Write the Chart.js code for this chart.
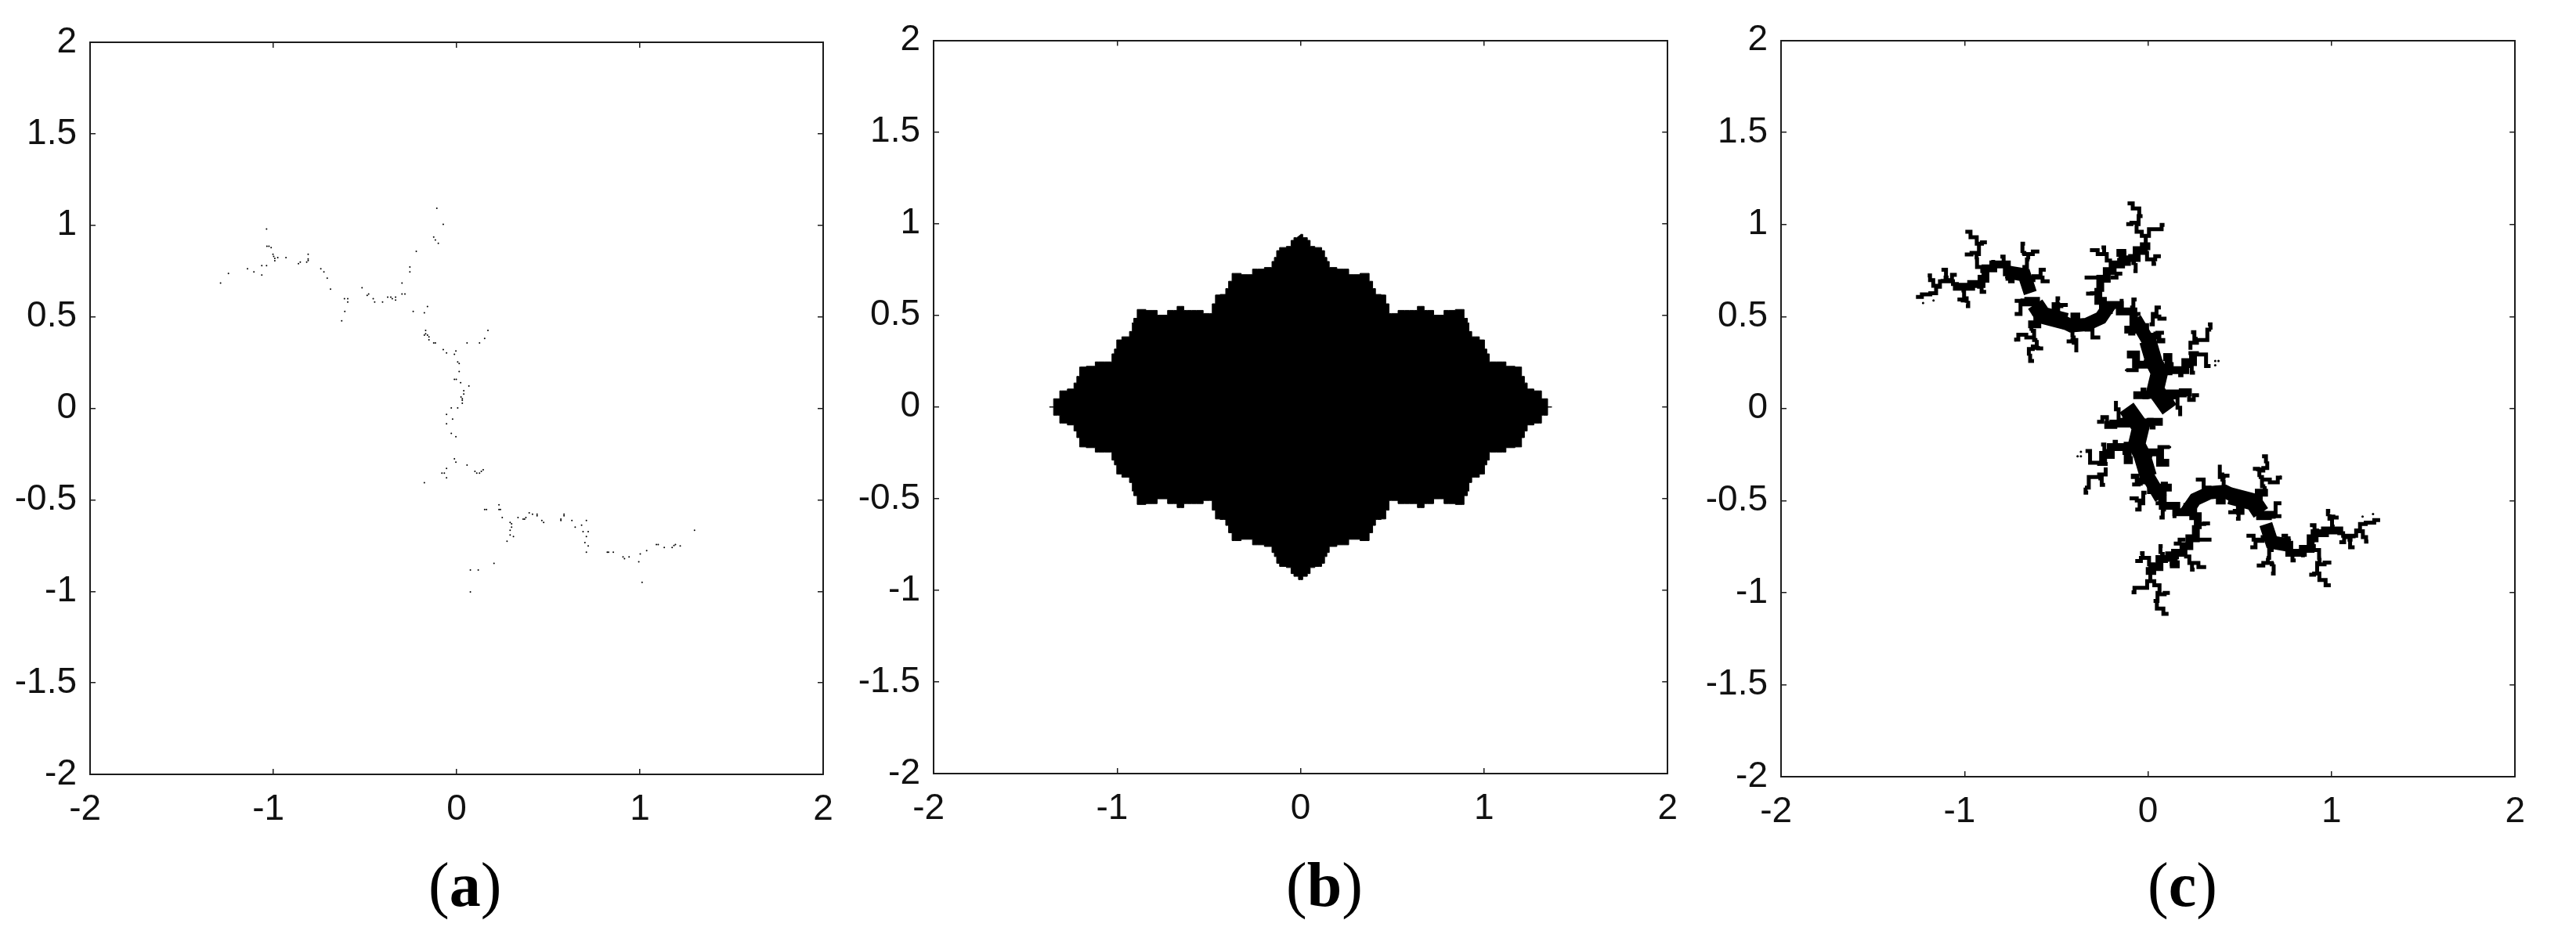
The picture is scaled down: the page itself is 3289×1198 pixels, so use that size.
<!DOCTYPE html>
<html>
<head>
<meta charset="utf-8">
<script src="https://cdn.jsdelivr.net/npm/chart.js@4"></script>
<style>
    body { margin: 0; background: #fff; width: 3289px; height: 1198px; position: relative; overflow: hidden; }
    canvas { position: absolute; top: 0; }
    .caption { position: absolute; top: 1080px; font-family: "Liberation Serif"; font-size: 80px; line-height: 100px; color: #000; }
</style>
</head>
<body>
<canvas id="chartA" width="1090" height="1060" style="left:0px"></canvas>
<canvas id="chartB" width="1090" height="1060" style="left:1077px"></canvas>
<canvas id="chartC" width="1090" height="1060" style="left:2159px"></canvas>
<div class="caption" style="left:547px">(<b>a</b>)</div>
<div class="caption" style="left:1642px">(<b>b</b>)</div>
<div class="caption" style="left:2742px">(<b>c</b>)</div>
<script>
// axis ticks, same on all three panels
const xTicks = [-2, -1, 0, 1, 2];
const yTicks = [-2, -1.5, -1, -0.5, 0, 0.5, 1, 1.5, 2];

// panel (a): the scattered dots
const dotsA = [
    [-0.108,1.093],[-0.073,1.005],[-0.125,0.936],[-0.116,0.920],[-0.100,0.902],[-0.220,0.858],[-0.255,0.772],[-0.255,0.745],
    [-0.298,0.685],[-0.298,0.625],[-0.282,0.625],[-0.237,0.529],[-0.176,0.522],[-0.159,0.556],
    [-1.037,0.980],[-1.035,0.886],[-1.024,0.886],[-1.012,0.878],[-1.002,0.842],[-0.998,0.830],[-0.992,0.819],[-0.992,0.806],
    [-0.976,0.824],[-0.931,0.824],[-0.863,0.790],[-0.853,0.799],[-0.818,0.799],[-0.810,0.808],[-0.810,0.816],[-0.810,0.842],
    [-0.741,0.763],[-0.724,0.745],[-0.706,0.711],[-0.688,0.651],[-0.612,0.599],[-0.594,0.599],[-0.594,0.581],[-0.610,0.529],[-0.627,0.478],
    [-0.516,0.659],[-0.488,0.617],[-0.480,0.625],[-0.455,0.599],[-0.447,0.581],[-0.404,0.581],[-0.376,0.607],[-0.359,0.607],
    [-0.351,0.599],[-0.333,0.607],[-0.333,0.591],
    [-1.288,0.685],[-1.245,0.737],[-1.141,0.763],[-1.106,0.745],[-1.063,0.780],[-1.037,0.780],[-1.063,0.728],
    [-0.169,0.426],[-0.176,0.400],[-0.169,0.408],[-0.159,0.400],[-0.151,0.390],[-0.151,0.374],[-0.125,0.357],[-0.116,0.357],
    [-0.073,0.321],[-0.055,0.303],[-0.004,0.313],[-0.012,0.295],[0.057,0.357],[0.125,0.357],[0.153,0.382],[0.171,0.426],
    [0.006,0.253],[0.014,0.245],[0.014,0.201],[-0.012,0.158],[-0.002,0.158],[0.022,0.140],[0.067,0.122],[0.039,0.096],[0.039,0.078],
    [0.024,0.062],[0.031,0.052],[0.031,0.044],[0.031,0.028],[-0.029,0.002],[0.006,0.002],[-0.055,-0.033],[-0.022,-0.059],
    [-0.055,-0.085],[-0.029,-0.137],[-0.004,-0.155],
    [-0.012,-0.276],[-0.004,-0.294],[0.057,-0.310],[-0.055,-0.328],[-0.080,-0.354],[-0.067,-0.354],[-0.055,-0.380],[-0.176,-0.406],
    [0.100,-0.344],[0.110,-0.354],[0.125,-0.354],[0.135,-0.344],[0.145,-0.336],
    [0.153,-0.553],[0.163,-0.553],[0.231,-0.527],[0.231,-0.553],[0.239,-0.553],[0.249,-0.597],[0.292,-0.623],[0.300,-0.631],
    [0.300,-0.649],[0.292,-0.666],[0.292,-0.692],[0.310,-0.700],[0.275,-0.726],
    [0.335,-0.597],[0.363,-0.605],[0.371,-0.605],[0.378,-0.597],[0.396,-0.571],[0.414,-0.579],[0.439,-0.579],[0.439,-0.587],
    [0.465,-0.613],[0.475,-0.623],[0.569,-0.605],[0.569,-0.613],[0.586,-0.579],[0.586,-0.587],[0.629,-0.613],[0.647,-0.649],
    [0.682,-0.639],[0.708,-0.613],[0.690,-0.674],[0.718,-0.674],[0.708,-0.700],[0.700,-0.734],[0.718,-0.752],[0.708,-0.786],
    [0.822,-0.786],[0.829,-0.786],[0.855,-0.786],[0.908,-0.812],[0.916,-0.821],[0.941,-0.812],[1.002,-0.796],[0.994,-0.838],
    [1.012,-0.951],[1.037,-0.778],[1.090,-0.744],[1.100,-0.744],[1.133,-0.760],[1.176,-0.760],[1.186,-0.750],[1.194,-0.744],
    [1.220,-0.752],[1.298,-0.666],[0.075,-0.883],[0.118,-0.883],[0.204,-0.847],[0.075,-1.003]
];

// panel (b): outline of the filled region, clockwise from the top tip
const outlineB = [
    [0,0.942],[0.023,0.924],[0.050,0.909],[0.054,0.876],[0.101,0.870],[0.128,0.853],[0.133,0.816],[0.153,0.794],[0.159,0.761],
    [0.236,0.752],[0.288,0.722],[0.360,0.729],[0.387,0.686],[0.398,0.646],[0.418,0.614],[0.460,0.611],[0.468,0.563],[0.495,0.510],
    [0.567,0.527],[0.619,0.527],[0.654,0.549],[0.692,0.527],[0.758,0.501],[0.805,0.527],[0.882,0.532],[0.899,0.484],[0.919,0.458],
    [0.915,0.412],[0.950,0.383],[0.998,0.366],[1.006,0.316],[1.023,0.290],[1.033,0.246],[1.101,0.246],[1.137,0.222],[1.199,0.218],
    [1.209,0.167],[1.230,0.131],[1.240,0.098],[1.302,0.088],[1.323,0.045],[1.369,0],
    [1.323,-0.045],[1.302,-0.088],[1.240,-0.098],[1.230,-0.131],[1.209,-0.167],[1.199,-0.218],[1.137,-0.222],[1.101,-0.246],[1.033,-0.246],
    [1.023,-0.290],[1.006,-0.316],[0.998,-0.366],[0.950,-0.383],[0.915,-0.412],[0.919,-0.458],[0.899,-0.484],[0.882,-0.532],[0.805,-0.527],
    [0.758,-0.501],[0.692,-0.527],[0.654,-0.549],[0.619,-0.527],[0.567,-0.527],[0.495,-0.510],[0.468,-0.563],[0.460,-0.611],[0.418,-0.614],
    [0.398,-0.646],[0.387,-0.686],[0.360,-0.729],[0.288,-0.722],[0.236,-0.752],[0.159,-0.761],[0.153,-0.794],[0.133,-0.816],[0.128,-0.853],
    [0.101,-0.870],[0.054,-0.876],[0.050,-0.909],[0.023,-0.924],[0,-0.942],
    [-0.023,-0.924],[-0.050,-0.909],[-0.054,-0.876],[-0.101,-0.870],[-0.128,-0.853],[-0.133,-0.816],[-0.153,-0.794],[-0.159,-0.761],
    [-0.236,-0.752],[-0.288,-0.722],[-0.360,-0.729],[-0.387,-0.686],[-0.398,-0.646],[-0.418,-0.614],[-0.460,-0.611],[-0.468,-0.563],[-0.495,-0.510],
    [-0.567,-0.527],[-0.619,-0.527],[-0.654,-0.549],[-0.692,-0.527],[-0.758,-0.501],[-0.805,-0.527],[-0.882,-0.532],[-0.899,-0.484],[-0.919,-0.458],
    [-0.915,-0.412],[-0.950,-0.383],[-0.998,-0.366],[-1.006,-0.316],[-1.023,-0.290],[-1.033,-0.246],[-1.101,-0.246],[-1.137,-0.222],[-1.199,-0.218],
    [-1.209,-0.167],[-1.230,-0.131],[-1.240,-0.098],[-1.302,-0.088],[-1.323,-0.045],[-1.369,0],
    [-1.323,0.045],[-1.302,0.088],[-1.240,0.098],[-1.230,0.131],[-1.209,0.167],[-1.199,0.218],[-1.137,0.222],[-1.101,0.246],[-1.033,0.246],
    [-1.023,0.290],[-1.006,0.316],[-0.998,0.366],[-0.950,0.383],[-0.915,0.412],[-0.919,0.458],[-0.899,0.484],[-0.882,0.532],[-0.805,0.527],
    [-0.758,0.501],[-0.692,0.527],[-0.654,0.549],[-0.619,0.527],[-0.567,0.527],[-0.495,0.510],[-0.468,0.563],[-0.460,0.611],[-0.418,0.614],
    [-0.398,0.646],[-0.387,0.686],[-0.360,0.729],[-0.288,0.722],[-0.236,0.752],[-0.159,0.761],[-0.153,0.794],[-0.133,0.816],[-0.128,0.853],
    [-0.101,0.870],[-0.054,0.876],[-0.050,0.909],[-0.023,0.924]
];

// panel (c): traced strands, heaviest first
const heavyC = [
    [[0.012,0.323],[0.033,0.252],[0.062,0.195],[0.040,0.103],[0.090,0.033]],
    [[-0.589,0.528],[-0.575,0.507],[-0.490,0.485]],
    [[-0.012,-0.323],[-0.033,-0.252],[-0.062,-0.195],[-0.040,-0.103],[-0.090,-0.033]],
    [[0.589,-0.528],[0.575,-0.507],[0.490,-0.485]]
];
const ridgeC = [
    [[-0.738,0.737],[-0.674,0.726],[-0.653,0.662]],
    [[-0.490,0.485],[-0.419,0.450],[-0.335,0.457],[-0.257,0.493],[-0.228,0.535]],
    [[-0.052,0.457],[-0.002,0.372],[0.005,0.337]],
    [[0.738,-0.737],[0.674,-0.726],[0.653,-0.662]],
    [[0.490,-0.485],[0.419,-0.450],[0.335,-0.457],[0.257,-0.493],[0.228,-0.535]],
    [[0.052,-0.457],[0.002,-0.372],[-0.005,-0.337]]
];
const limbC = [
    [[-1.042,0.662],[-0.999,0.662],[-0.929,0.677],[-0.886,0.705],[-0.886,0.747]],
    [[-0.886,0.762],[-0.801,0.783],[-0.738,0.740]],
    [[-0.632,0.585],[-0.589,0.528]],
    [[-0.674,0.577],[-0.632,0.585]],
    [[-0.228,0.542],[-0.264,0.585],[-0.278,0.655],[-0.243,0.705],[-0.207,0.747],[-0.179,0.783],[-0.115,0.797]],
    [[-0.575,0.500],[-0.632,0.457]],
    [[-0.504,0.556],[-0.497,0.500]],
    [[-0.391,0.500],[-0.412,0.450]],
    [[-0.228,0.535],[-0.200,0.563],[-0.108,0.528],[-0.052,0.457]],
    [[-0.151,0.846],[-0.129,0.811]],
    [[-0.087,0.818],[-0.037,0.861],[-0.009,0.882]],
    [[-0.108,0.429],[-0.016,0.443]],
    [[-0.094,0.294],[-0.037,0.238],[0.033,0.245]],
    [[0.062,0.202],[0.161,0.209],[0.245,0.252],[0.245,0.280]],
    [[0.104,0.280],[0.118,0.231]],
    [[-0.059,0.072],[0.033,0.075]],
    [[0.076,0.047],[0.161,0.082],[0.217,0.089]],
    [[1.042,-0.662],[0.999,-0.662],[0.929,-0.677],[0.886,-0.705],[0.886,-0.747]],
    [[0.886,-0.762],[0.801,-0.783],[0.738,-0.740]],
    [[0.632,-0.585],[0.589,-0.528]],
    [[0.674,-0.577],[0.632,-0.585]],
    [[0.228,-0.542],[0.264,-0.585],[0.278,-0.655],[0.243,-0.705],[0.207,-0.747],[0.179,-0.783],[0.115,-0.797]],
    [[0.575,-0.500],[0.632,-0.457]],
    [[0.504,-0.556],[0.497,-0.500]],
    [[0.391,-0.500],[0.412,-0.450]],
    [[0.228,-0.535],[0.200,-0.563],[0.108,-0.528],[0.052,-0.457]],
    [[0.151,-0.846],[0.129,-0.811]],
    [[0.087,-0.818],[0.037,-0.861],[0.009,-0.882]],
    [[0.108,-0.429],[0.016,-0.443]],
    [[0.094,-0.294],[0.037,-0.238],[-0.033,-0.245]],
    [[-0.062,-0.202],[-0.161,-0.209],[-0.245,-0.252],[-0.245,-0.280]],
    [[-0.104,-0.280],[-0.118,-0.231]],
    [[0.059,-0.072],[-0.033,-0.075]],
    [[-0.076,-0.047],[-0.161,-0.082],[-0.217,-0.089]]
];
const twigUpperC = [
    [[-1.254,0.606],[-1.211,0.620],[-1.162,0.627],[-1.148,0.662],[-1.120,0.691],[-1.084,0.691],[-1.042,0.677]],
    [[-1.155,0.667],[-1.186,0.698],[-1.190,0.723]],
    [[-1.120,0.694],[-1.087,0.712],[-1.115,0.754]],
    [[-1.084,0.698],[-1.053,0.726]],
    [[-0.886,0.747],[-0.921,0.769],[-0.943,0.811],[-0.926,0.839],[-0.917,0.896],[-0.950,0.931],[-0.985,0.960]],
    [[-0.936,0.846],[-0.988,0.837]],
    [[-0.921,0.896],[-0.889,0.903]],
    [[-1.006,0.641],[-0.999,0.599],[-0.978,0.585],[-0.982,0.556]],
    [[-1.028,0.592],[-0.992,0.587]],
    [[-0.921,0.662],[-0.893,0.634]],
    [[-0.844,0.797],[-0.844,0.769]],
    [[-0.794,0.825],[-0.780,0.790]],
    [[-0.766,0.705],[-0.738,0.691]],
    [[-0.646,0.698],[-0.603,0.719],[-0.568,0.754]],
    [[-0.603,0.712],[-0.547,0.691]],
    [[-0.674,0.769],[-0.646,0.811],[-0.660,0.839],[-0.688,0.846],[-0.681,0.896]],
    [[-0.653,0.839],[-0.603,0.853]],
    [[-0.335,0.712],[-0.264,0.712]],
    [[-0.327,0.624],[-0.285,0.627]],
    [[-0.207,0.804],[-0.243,0.839],[-0.306,0.861]],
    [[-0.243,0.875],[-0.236,0.839]],
    [[-0.129,0.846],[-0.137,0.804]],
    [[-0.151,0.733],[-0.193,0.712]],
    [[-0.716,0.585],[-0.674,0.577]],
    [[-0.674,0.570],[-0.716,0.514]],
    [[-0.632,0.457],[-0.639,0.422],[-0.603,0.372],[-0.610,0.337],[-0.646,0.323],[-0.653,0.287],[-0.632,0.259]],
    [[-0.632,0.386],[-0.695,0.401],[-0.719,0.375]],
    [[-0.617,0.330],[-0.582,0.327]],
    [[-0.497,0.556],[-0.448,0.563]],
    [[-0.490,0.599],[-0.497,0.556]],
    [[-0.405,0.443],[-0.419,0.386],[-0.391,0.358],[-0.391,0.316]],
    [[-0.433,0.365],[-0.391,0.372]],
    [[-0.335,0.429],[-0.271,0.386]],
    [[-0.094,0.818],[-0.066,0.790],[-0.069,0.747]],
    [[-0.009,0.882],[-0.016,0.938],[-0.052,0.960],[-0.073,1.002],[-0.030,1.045],[-0.066,1.087],[-0.101,1.115]],
    [[-0.009,0.938],[0.019,0.974],[0.069,0.974],[0.079,0.998]],
    [[-0.108,1.002],[-0.073,1.009]],
    [[-0.030,0.846],[0.019,0.811],[0.059,0.828]],
    [[0.026,0.811],[0.033,0.786]],
    [[-0.144,0.585],[-0.144,0.556]],
    [[-0.073,0.592],[-0.087,0.549]],
    [[-0.052,0.514],[-0.080,0.500]],
    [[-0.115,0.429],[-0.080,0.408]],
    [[0.019,0.457],[0.033,0.514],[0.059,0.549]],
    [[0.033,0.500],[0.090,0.488]],
    [[0.040,0.408],[0.083,0.372]],
    [[0.026,0.401],[0.076,0.412]],
    [[-0.108,0.209],[-0.016,0.231]],
    [[0.231,0.301],[0.302,0.294],[0.330,0.231]],
    [[0.231,0.330],[0.231,0.358],[0.302,0.372],[0.344,0.429],[0.337,0.457]],
    [[0.260,0.379],[0.245,0.415]],
    [[0.182,0.181],[0.168,0.217]],
    [[0.231,0.231],[0.245,0.195]],
    [[0.146,0.061],[0.175,0.004],[0.175,-0.031]],
    [[0.217,0.089],[0.231,0.047],[0.267,0.072]],
    [[-0.030,0.103],[-0.009,0.061]],
    [[0.033,0.386],[0.083,0.365]]
];
const twigLowerC = [
    [[1.254,-0.606],[1.211,-0.620],[1.162,-0.627],[1.148,-0.662],[1.120,-0.691],[1.084,-0.691],[1.042,-0.677]],
    [[1.155,-0.667],[1.186,-0.698],[1.190,-0.723]],
    [[1.120,-0.694],[1.087,-0.712],[1.115,-0.754]],
    [[1.084,-0.698],[1.053,-0.726]],
    [[0.886,-0.747],[0.921,-0.769],[0.943,-0.811],[0.926,-0.839],[0.917,-0.896],[0.950,-0.931],[0.985,-0.960]],
    [[0.936,-0.846],[0.988,-0.837]],
    [[0.921,-0.896],[0.889,-0.903]],
    [[1.006,-0.641],[0.999,-0.599],[0.978,-0.585],[0.982,-0.556]],
    [[1.028,-0.592],[0.992,-0.587]],
    [[0.921,-0.662],[0.893,-0.634]],
    [[0.844,-0.797],[0.844,-0.769]],
    [[0.794,-0.825],[0.780,-0.790]],
    [[0.766,-0.705],[0.738,-0.691]],
    [[0.646,-0.698],[0.603,-0.719],[0.568,-0.754]],
    [[0.603,-0.712],[0.547,-0.691]],
    [[0.674,-0.769],[0.646,-0.811],[0.660,-0.839],[0.688,-0.846],[0.681,-0.896]],
    [[0.653,-0.839],[0.603,-0.853]],
    [[0.335,-0.712],[0.264,-0.712]],
    [[0.327,-0.624],[0.285,-0.627]],
    [[0.207,-0.804],[0.243,-0.839],[0.306,-0.861]],
    [[0.243,-0.875],[0.236,-0.839]],
    [[0.129,-0.846],[0.137,-0.804]],
    [[0.151,-0.733],[0.193,-0.712]],
    [[0.716,-0.585],[0.674,-0.577]],
    [[0.674,-0.570],[0.716,-0.514]],
    [[0.632,-0.457],[0.639,-0.422],[0.603,-0.372],[0.610,-0.337],[0.646,-0.323],[0.653,-0.287],[0.632,-0.259]],
    [[0.632,-0.386],[0.695,-0.401],[0.719,-0.375]],
    [[0.617,-0.330],[0.582,-0.327]],
    [[0.497,-0.556],[0.448,-0.563]],
    [[0.490,-0.599],[0.497,-0.556]],
    [[0.405,-0.443],[0.419,-0.386],[0.391,-0.358],[0.391,-0.316]],
    [[0.433,-0.365],[0.391,-0.372]],
    [[0.335,-0.429],[0.271,-0.386]],
    [[0.094,-0.818],[0.066,-0.790],[0.069,-0.747]],
    [[0.009,-0.882],[0.016,-0.938],[0.052,-0.960],[0.073,-1.002],[0.030,-1.045],[0.066,-1.087],[0.101,-1.115]],
    [[0.009,-0.938],[-0.019,-0.974],[-0.069,-0.974],[-0.079,-0.998]],
    [[0.108,-1.002],[0.073,-1.009]],
    [[0.030,-0.846],[-0.019,-0.811],[-0.059,-0.828]],
    [[-0.026,-0.811],[-0.033,-0.786]],
    [[0.144,-0.585],[0.144,-0.556]],
    [[0.073,-0.592],[0.087,-0.549]],
    [[0.052,-0.514],[0.080,-0.500]],
    [[0.115,-0.429],[0.080,-0.408]],
    [[-0.019,-0.457],[-0.033,-0.514],[-0.059,-0.549]],
    [[-0.033,-0.500],[-0.090,-0.488]],
    [[-0.040,-0.408],[-0.083,-0.372]],
    [[-0.026,-0.401],[-0.076,-0.412]],
    [[0.108,-0.209],[0.016,-0.231]],
    [[-0.231,-0.301],[-0.302,-0.294],[-0.330,-0.231]],
    [[-0.231,-0.330],[-0.231,-0.358],[-0.302,-0.372],[-0.344,-0.429],[-0.337,-0.457]],
    [[-0.260,-0.379],[-0.245,-0.415]],
    [[-0.182,-0.181],[-0.168,-0.217]],
    [[-0.231,-0.231],[-0.245,-0.195]],
    [[-0.146,-0.061],[-0.175,-0.004],[-0.175,0.031]],
    [[-0.217,-0.089],[-0.231,-0.047],[-0.267,-0.072]],
    [[0.030,-0.103],[0.009,-0.061]],
    [[-0.033,-0.386],[-0.083,-0.365]]
];
const specksC = [
    [0.366,0.259],[0.384,0.259],[0.366,0.235],[-0.120,0.209],[-1.169,0.587],[-1.226,0.573],[-0.639,0.259],[-0.722,0.370],
    [-0.366,-0.259],[-0.384,-0.259],[-0.366,-0.235],[0.120,-0.209],[1.169,-0.587],[1.226,-0.573],[0.639,-0.259],[0.722,-0.370]
];

const toPoints = (pairs) => pairs.map((p) => ({ x: p[0], y: p[1] }));

// join strands into one dataset, a null point breaks the line
function joinStrands(strands) {
    const out = [];
    strands.forEach((s) => {
        out.push(...toPoints(s));
        out.push({ x: null, y: null });
    });
    return out;
}

function strand(strands, width, stepped) {
    return {
        data: joinStrands(strands),
        showLine: true,
        borderColor: '#000',
        borderWidth: width,
        borderJoinStyle: 'miter',
        borderCapStyle: 'square',
        stepped: stepped,
        pointRadius: 0
    };
}

const axisColor = '#1c1c1c';

// label the digit on the tick: the nbsp balances the minus sign
function xLabel(value) {
    if (!xTicks.includes(value)) return '';
    return value < 0 ? value + '\u00a0' : String(value);
}

function yLabel(value) {
    return yTicks.includes(value) ? String(value) : '';
}

function makeAxis(position, step, size, showLabels, callback) {
    return {
        type: 'linear',
        position: position,
        min: -2,
        max: 2,
        afterFit: (scale) => {
            if (position === 'left' || position === 'right') scale.width = size;
            else scale.height = size;
        },
        border: { color: axisColor, width: 2 },
        grid: { drawOnChartArea: false, color: axisColor, lineWidth: 1.5, tickLength: -7 },
        ticks: {
            display: showLabels,
            stepSize: step,
            autoSkip: false,
            maxRotation: 0,
            padding: position === 'left' ? 24 : 25,
            color: '#111',
            font: { family: 'Liberation Sans', size: 46 },
            callback: callback
        }
    };
}

// gaps: distance from the canvas edge to the plot box on each side
function makePanel(id, gaps, datasets) {
    return new Chart(document.getElementById(id), {
        type: 'scatter',
        data: { datasets: datasets },
        options: {
            responsive: false,
            animation: false,
            layout: { padding: 0 },
            plugins: { legend: { display: false }, tooltip: { enabled: false } },
            scales: {
                x: makeAxis('bottom', 1, gaps.bottom, true, xLabel),
                y: makeAxis('left', 0.5, 115, true, yLabel),
                xTop: makeAxis('top', 1, gaps.top, false),
                yRight: makeAxis('right', 0.5, gaps.right, false)
            }
        }
    });
}

makePanel('chartA', { top: 54, bottom: 71, right: 39 }, [{
    data: toPoints(dotsA),
    pointRadius: 1,
    pointBorderWidth: 0,
    pointBackgroundColor: '#000'
}]);

makePanel('chartB', { top: 50, bottom: 72, right: 35 }, [{
    data: toPoints(outlineB),
    showLine: true,
    stepped: 'middle',
    fill: 'shape',
    backgroundColor: '#000',
    borderColor: '#000',
    borderWidth: 1,
    pointRadius: 0
}]);

makePanel('chartC', { top: 50, bottom: 68, right: 32 }, [
    strand(heavyC, 22, false),
    strand(ridgeC, 17, false),
    strand(limbC, 10, 'middle'),
    strand(twigUpperC, 5, 'middle'),
    strand(twigLowerC, 5, 'middle'),
    { data: toPoints(specksC), pointRadius: 1.5, pointBorderWidth: 0, pointBackgroundColor: '#000' }
]);
</script>
</body>
</html>
